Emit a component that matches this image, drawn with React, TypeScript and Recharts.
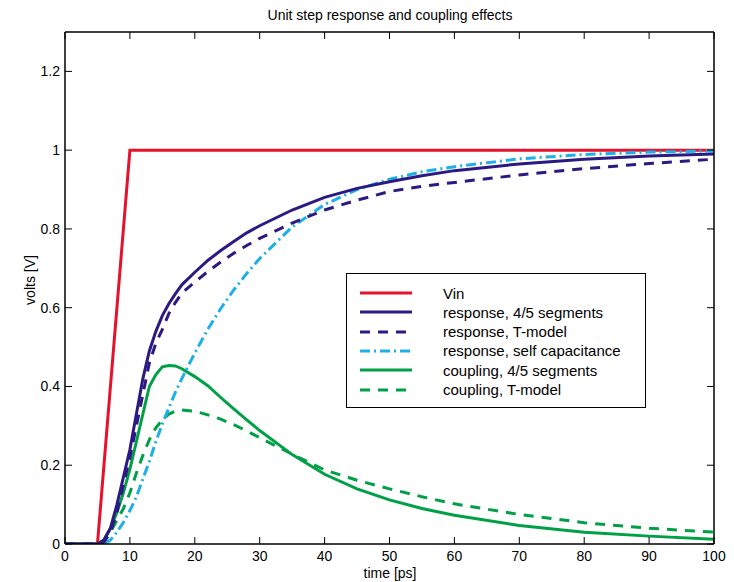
import React from "react";
import { LineChart, Line, XAxis, YAxis } from "recharts";

// time grid shared by the response / coupling curves
const time = [0, 5, 6, 7, 8, 9, 10, 11, 12, 13, 14, 15, 16, 17, 18, 20, 22, 24, 26, 28, 30, 35, 40, 45, 50, 55, 60, 70, 80, 90, 100];

const response45 = [0, 0, 0.01, 0.04, 0.1, 0.17, 0.24, 0.33, 0.42, 0.49, 0.54, 0.58, 0.61, 0.635, 0.658, 0.69, 0.72, 0.745, 0.768, 0.79, 0.808, 0.848, 0.88, 0.903, 0.92, 0.935, 0.948, 0.965, 0.977, 0.985, 0.99];
const responseT = [0, 0, 0.005, 0.03, 0.08, 0.15, 0.22, 0.3, 0.38, 0.46, 0.51, 0.545, 0.585, 0.613, 0.637, 0.665, 0.692, 0.716, 0.738, 0.758, 0.776, 0.815, 0.848, 0.873, 0.895, 0.908, 0.918, 0.937, 0.953, 0.966, 0.977];
const responseSelf = [0, 0, 0, 0.01, 0.03, 0.055, 0.085, 0.12, 0.165, 0.21, 0.26, 0.305, 0.345, 0.385, 0.42, 0.485, 0.545, 0.598, 0.645, 0.687, 0.725, 0.805, 0.862, 0.9, 0.926, 0.945, 0.958, 0.978, 0.989, 0.995, 0.998];
const coupling45 = [0, 0, 0.01, 0.04, 0.08, 0.13, 0.19, 0.26, 0.33, 0.4, 0.43, 0.45, 0.453, 0.452, 0.445, 0.425, 0.402, 0.372, 0.343, 0.315, 0.288, 0.227, 0.177, 0.14, 0.112, 0.09, 0.073, 0.047, 0.03, 0.02, 0.012];
const couplingT = [0, 0, 0.005, 0.03, 0.06, 0.09, 0.13, 0.18, 0.225, 0.265, 0.295, 0.315, 0.33, 0.337, 0.34, 0.337, 0.328, 0.317, 0.303, 0.287, 0.27, 0.228, 0.188, 0.162, 0.14, 0.12, 0.102, 0.075, 0.054, 0.04, 0.03];

// input step (ramp from 5 to 10 ps)
const vinTime = [0, 5, 10, 100];
const vinVolts = [0, 0, 1, 1];

const xTicks = [0, 10, 20, 30, 40, 50, 60, 70, 80, 90, 100];
const yTicks = [0, 0.2, 0.4, 0.6, 0.8, 1, 1.2];

const rows = time.map((t, i) => ({
  t,
  r45: response45[i],
  rT: responseT[i],
  rSelf: responseSelf[i],
  c45: coupling45[i],
  cT: couplingT[i],
}));
const vinRows = vinTime.map((t, i) => ({ t, vin: vinVolts[i] }));

const RED = "#e5112d";
const NAVY = "#2c1a82";
const CYAN = "#1cb0e6";
const GREEN = "#00a046";

const series = [
  { key: "vin", name: "Vin", color: RED, dash: undefined },
  { key: "r45", name: "response, 4/5 segments", color: NAVY, dash: undefined },
  { key: "rT", name: "response, T-model", color: NAVY, dash: "10 8" },
  { key: "rSelf", name: "response, self capacitance", color: CYAN, dash: "10 4 2 4" },
  { key: "c45", name: "coupling, 4/5 segments", color: GREEN, dash: undefined },
  { key: "cT", name: "coupling, T-model", color: GREEN, dash: "10 8" },
];

const font = "'Liberation Sans', Arial, Helvetica, sans-serif";
const tickStyle = { fill: "#000", fontSize: 14, fontFamily: font };
const blank = () => "";
const frame = { stroke: "#000", strokeWidth: 1.5 };
const tickPen = { stroke: "#000", strokeWidth: 1 };

export default function App() {
  return (
    <div style={{ position: "absolute", left: 0, top: 0, width: 734, height: 582, background: "#fff", fontFamily: font }}>
      <LineChart width={734} height={582} data={rows} margin={{ top: 31, right: 19, bottom: 0, left: 0 }}>
        <XAxis
          dataKey="t"
          type="number"
          domain={[0, 100]}
          ticks={xTicks}
          height={38}
          tickSize={-7}
          tickMargin={14}
          tick={tickStyle}
          tickLine={tickPen}
          axisLine={frame}
          allowDataOverflow
        />
        <XAxis
          xAxisId="top"
          orientation="top"
          dataKey="t"
          type="number"
          domain={[0, 100]}
          ticks={xTicks}
          height={1}
          tickSize={-7}
          tickFormatter={blank}
          tickLine={tickPen}
          axisLine={frame}
          allowDataOverflow
        />
        <YAxis
          type="number"
          domain={[0, 1.3]}
          ticks={yTicks}
          width={65}
          tickSize={-7}
          tickMargin={12}
          tick={tickStyle}
          tickLine={tickPen}
          axisLine={frame}
          allowDataOverflow
        />
        <YAxis
          yAxisId="right"
          orientation="right"
          type="number"
          domain={[0, 1.3]}
          ticks={yTicks}
          width={1}
          tickSize={-7}
          tickFormatter={blank}
          tickLine={tickPen}
          axisLine={frame}
          allowDataOverflow
        />
        {/* invisible series so the top / right frame axes get drawn */}
        <Line xAxisId="top" yAxisId="right" dataKey="r45" stroke="none" dot={false} activeDot={false} legendType="none" isAnimationActive={false} />
        <Line data={vinRows} dataKey="vin" type="linear" stroke={RED} strokeWidth={3} dot={false} isAnimationActive={false} />
        <Line dataKey="cT" type="linear" stroke={GREEN} strokeWidth={3} strokeDasharray="10 8" dot={false} isAnimationActive={false} />
        <Line dataKey="c45" type="linear" stroke={GREEN} strokeWidth={3} dot={false} isAnimationActive={false} />
        <Line dataKey="rSelf" type="linear" stroke={CYAN} strokeWidth={3} strokeDasharray="10 4 2 4" dot={false} isAnimationActive={false} />
        <Line dataKey="rT" type="linear" stroke={NAVY} strokeWidth={3} strokeDasharray="10 8" dot={false} isAnimationActive={false} />
        <Line dataKey="r45" type="linear" stroke={NAVY} strokeWidth={3} dot={false} isAnimationActive={false} />
      </LineChart>

      <div style={{ position: "absolute", left: 0, width: 734, top: 7, paddingLeft: 46, boxSizing: "border-box", textAlign: "center", fontSize: 14, color: "#000" }}>
        Unit step response and coupling effects
      </div>
      <div style={{ position: "absolute", left: 0, width: 734, top: 565, paddingLeft: 46, boxSizing: "border-box", textAlign: "center", fontSize: 14, color: "#000" }}>
        time [ps]
      </div>
      <div
        style={{
          position: "absolute",
          left: 30,
          top: 280,
          transform: "translate(-50%, -50%) rotate(-90deg)",
          fontSize: 14,
          whiteSpace: "nowrap",
          color: "#000",
        }}
      >
        volts [V]
      </div>

      <div
        style={{
          position: "absolute",
          left: 346,
          top: 273,
          width: 300,
          height: 135,
          border: "1.5px solid #000",
          background: "#fff",
          boxSizing: "border-box",
        }}
      >
        {series.map((s, i) => (
          <div key={s.key} style={{ position: "absolute", left: 0, top: 9 + i * 19.3, height: 20, width: 300, display: "flex", alignItems: "center" }}>
            <svg width={96} height={20} style={{ flex: "none" }}>
              <line x1={13} x2={65} y1={10} y2={10} stroke={s.color} strokeWidth={3} strokeDasharray={s.dash} />
            </svg>
            <span style={{ fontSize: 15, color: "#000", whiteSpace: "nowrap" }}>{s.name}</span>
          </div>
        ))}
      </div>
    </div>
  );
}
